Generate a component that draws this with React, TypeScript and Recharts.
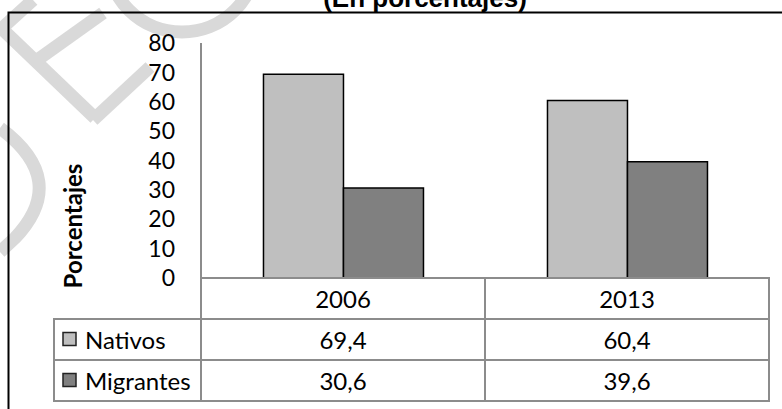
import React from 'react';
import { BarChart, Bar, XAxis, YAxis } from 'recharts';

// datos del gráfico
const years = ['2006', '2013'];
const nativos = [69.4, 60.4];
const migrantes = [30.6, 39.6];
const seriesNames = ['Nativos', 'Migrantes'];
const seriesColors = ['#bfbfbf', '#808080'];
const yTicks = [0, 10, 20, 30, 40, 50, 60, 70, 80];

const data = years.map((year, i) => ({
  year,
  nativos: nativos[i],
  migrantes: migrantes[i],
}));

const FONT = 'Lato, "Open Sans", sans-serif';
const GRID = '#8c8c8c';
const ROW = 41;
const LABEL_COL = 147;

const fmt = (v: number) => v.toFixed(1).replace('.', ',');

// the data table under the plot, drawn as the x axis tick
function TableTick(props: any) {
  const { x, y, index, payload, width } = props;
  const band = (width || 568) / years.length;
  const left = x - band / 2;
  const rows = [nativos, migrantes];

  return (
    <g fontFamily={FONT} fontSize={24} fill="#000">
      <rect x={left} y={y} width={band} height={ROW * 3} fill="none" stroke={GRID} strokeWidth={2} />
      <line x1={left} x2={left + band} y1={y + ROW} y2={y + ROW} stroke={GRID} strokeWidth={2} />
      <line x1={left} x2={left + band} y1={y + ROW * 2} y2={y + ROW * 2} stroke={GRID} strokeWidth={2} />
      <text x={x} y={y + ROW / 2} textAnchor="middle" dominantBaseline="central">
        {payload.value}
      </text>
      {rows.map((vals, r) => (
        <text key={r} x={x} y={y + ROW * (r + 1.5)} textAnchor="middle" dominantBaseline="central">
          {fmt(vals[index])}
        </text>
      ))}
      {index === 0 && (
        <g>
          <rect
            x={left - LABEL_COL}
            y={y + ROW}
            width={LABEL_COL}
            height={ROW * 2}
            fill="none"
            stroke={GRID}
            strokeWidth={2}
          />
          <line
            x1={left - LABEL_COL}
            x2={left}
            y1={y + ROW * 2}
            y2={y + ROW * 2}
            stroke={GRID}
            strokeWidth={2}
          />
          {seriesNames.map((name, r) => (
            <g key={name}>
              <rect
                x={left - LABEL_COL + 9}
                y={y + ROW * (r + 1.5) - 7}
                width={13}
                height={13}
                fill={seriesColors[r]}
                stroke="#222"
                strokeWidth={1.5}
              />
              <text x={left - LABEL_COL + 31} y={y + ROW * (r + 1.5)} dominantBaseline="central">
                {name}
              </text>
            </g>
          ))}
        </g>
      )}
    </g>
  );
}

export default function App() {
  return (
    <div style={{ position: 'absolute', left: 0, top: 0, width: 782, height: 409, background: '#fff' }}>
      {/* marca de agua */}
      <svg width={782} height={409} style={{ position: 'absolute', left: 0, top: 0 }}>
        <g stroke="#d9d9d9" strokeWidth={13} fill="none">
          <path d="M0,27 L95,118" />
          <path d="M0,30 L33,0" />
          <path d="M33,63 L103,13" />
          <path d="M93,120 L150,67" />
          <path d="M0,128 Q70,180 15,238 L0,252" />
          <circle cx={182} cy={-43} r={75} />
        </g>
      </svg>

      <div style={{ position: 'absolute', left: 0, top: 0 }}>
        <BarChart
          width={782}
          height={409}
          data={data}
          margin={{ top: 43, right: 13, bottom: 7, left: 0 }}
          barCategoryGap="22%"
          barGap={0}
        >
          <XAxis
            dataKey="year"
            height={124}
            interval={0}
            tickLine={false}
            tickSize={0}
            tickMargin={0}
            axisLine={{ stroke: GRID, strokeWidth: 2 }}
            tick={<TableTick />}
          />
          <YAxis
            width={201}
            domain={[0, 80]}
            ticks={yTicks}
            interval={0}
            tickLine={false}
            tickSize={0}
            tickMargin={26}
            axisLine={{ stroke: GRID, strokeWidth: 2 }}
            tick={{ fill: '#000', fontSize: 23, fontFamily: FONT }}
          />
          <Bar dataKey="nativos" name="Nativos" fill={seriesColors[0]} stroke="#000" strokeWidth={1.5} isAnimationActive={false} />
          <Bar dataKey="migrantes" name="Migrantes" fill={seriesColors[1]} stroke="#000" strokeWidth={1.5} isAnimationActive={false} />
        </BarChart>
      </div>

      {/* título, borde y etiqueta del eje */}
      <svg width={782} height={409} style={{ position: 'absolute', left: 0, top: 0, pointerEvents: 'none' }}>
        <text
          x={425}
          y={7}
          textAnchor="middle"
          fontFamily='"Liberation Sans", Arial, sans-serif'
          fontWeight="bold"
          fontSize={26}
          fill="#000"
        >
          (En porcentajes)
        </text>
        <path d="M8.5,409 L8.5,12.5 L782,12.5" stroke="#000" strokeWidth={2} fill="none" />
        <text
          x={0}
          y={0}
          transform="translate(72,226) rotate(-90)"
          textAnchor="middle"
          dominantBaseline="central"
          fontFamily={FONT}
          fontWeight="bold"
          fontSize={24}
          fill="#000"
        >
          Porcentajes
        </text>
      </svg>
    </div>
  );
}
